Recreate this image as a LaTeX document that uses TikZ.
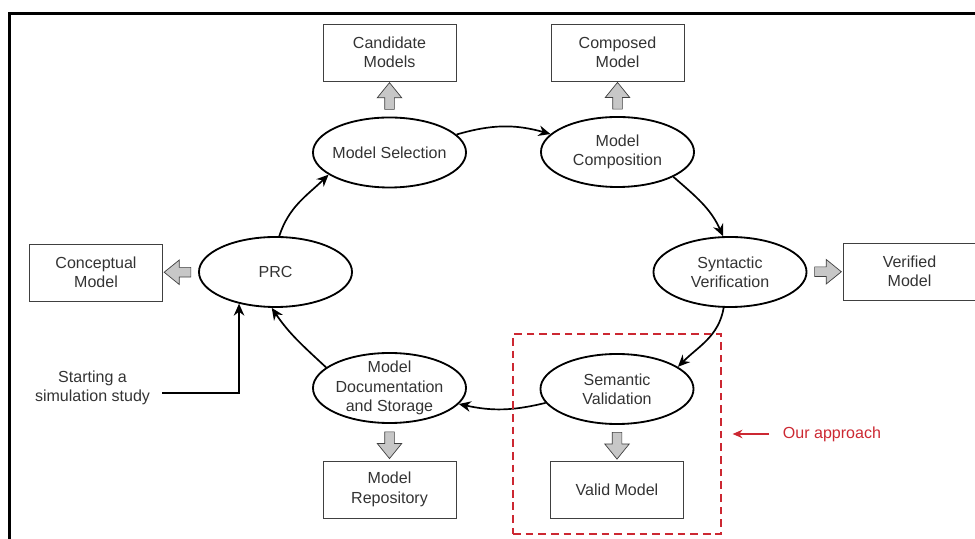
\documentclass[tikz,border=0pt]{standalone}
\usepackage{fontspec}
\setmainfont{Liberation Sans}
\usetikzlibrary{arrows.meta,calc,shapes.geometric,shapes.arrows}

\definecolor{approachred}{RGB}{204,40,50}

\tikzset{
  stage/.style={ellipse,draw=black,line width=1.3pt,inner sep=0pt,
    minimum width=3.825cm,minimum height=1.75cm,align=center},
  product/.style={rectangle,draw=black!75,line width=0.6pt,
    minimum width=3.325cm,minimum height=1.425cm,align=center},
  flow/.style={-{Stealth[length=8.5pt,width=7.5pt]},line width=1.2pt},
  outarrow/.style={single arrow,draw=black!75,fill=black!22,line width=0.5pt,
    inner xsep=0pt,inner ysep=3.2pt,minimum width=0pt,minimum height=19pt,
    single arrow head extend=5.3pt,single arrow tip angle=78},
  approachbox/.style={draw=approachred,line width=0.9pt,
    dash pattern=on 5.5pt off 3.5pt,minimum width=5.2cm,minimum height=5cm},
}

\begin{document}
\begin{tikzpicture}[x=0.025cm,y=0.025cm,text=black!80,
    font=\fontsize{11.4}{13.8}\selectfont]
    \path[use as bounding box,clip] (0,0) rectangle (975,539);
    % frame
    \draw[line width=1.9pt] (9.3,-10) |- (990,525.7);
    % stages
    \node[stage,inner xsep=-2.5pt] (sel) at (389.5,386.5) {Model Selection};
    \node[stage] (comp) at (617.5,387)   {Model\\Composition};
    \node[stage] (syn)  at (730,267)     {Syntactic\\Verification};
    \node[stage] (prc)  at (275.5,267)   {PRC};
    \node[stage] (sem)  at (617,150)     {Semantic\\Validation};
    \node[stage,inner sep=-2.2pt] (doc) at (389.5,151) {Model\\Documentation\\and Storage};
    % products
    \node[product] (cand)    at (389.5,486.5) {Candidate\\Models};
    \node[product] (compd)   at (617.5,486.5) {Composed\\Model};
    \node[product] (ver)     at (909.5,267.5) {Verified\\Model};
    \node[product] (concept) at (96,266.5)    {Conceptual\\Model};
    \node[product] (valid)   at (617,49.5)    {Valid Model};
    \node[product] (repo)    at (389.5,49.5)  {Model\\Repository};
    % block arrows
    \foreach \from/\fa/\to/\ta/\ang in {sel/north/cand/south/90, comp/north/compd/south/90,
        syn/east/ver/west/0, prc/west/concept/east/180,
        doc/south/repo/north/-90, sem/south/valid/north/-90} {
        \node[outarrow,rotate=\ang] at ($(\from.\fa)!0.5!(\to.\ta)$) {};
    }
    % cycle
    \draw[flow] (prc.84) to[out=72,in=224,shorten >=7.5pt] (sel.200);
    \draw[flow] (sel.15) to[bend left=16,shorten <=6.5pt,shorten >=13pt] (comp.165);
    \draw[flow] (comp.-24) to[out=-41,in=114,shorten <=6pt,shorten >=3pt] (syn.101);
    \draw[flow] (syn.260) to[out=260,in=45,shorten <=4.3pt,shorten >=4.7pt] (sem.20);
    \draw[flow] (sem.191) to[bend left=13,shorten <=6.4pt,shorten >=7.8pt] (doc.-13);
    \draw[flow] (doc.162) to[out=137,in=-56,shorten <=6.4pt,shorten >=7pt] (prc.264);
    % start
    \node[align=center] (start) at (92.5,151) {Starting a\\simulation study};
    \coordinate (startpt) at (162,146.3);
    \draw[flow] (startpt) -| (prc.221);
    % our approach
    \node[approachbox] (approach) at (617,105) {};
    \node[anchor=west,text=approachred] (ourlbl) at (778,105) {Our approach};
    \draw[-{Stealth[length=7pt,width=6pt]},approachred,line width=1pt,
        shorten <=6.4pt,shorten >=7.8pt] (ourlbl.west) -- (approach.east);
\end{tikzpicture}
\end{document}
